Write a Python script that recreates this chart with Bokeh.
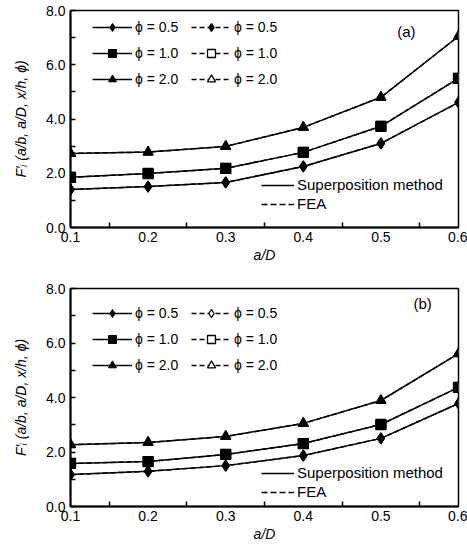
from bokeh.plotting import figure
from bokeh.models import Legend, LegendItem, Range1d, Label, FixedTicker
from bokeh.layouts import column
from bokeh.embed import file_html
from bokeh.resources import INLINE

aD = [0.1, 0.2, 0.3, 0.4, 0.5, 0.6]
phi_labels = ["ϕ = 0.5", "ϕ = 1.0", "ϕ = 2.0"]
x_ticks = [0.1, 0.2, 0.3, 0.4, 0.5, 0.6]
y_ticks = [0.0, 2.0, 4.0, 6.0, 8.0]

# panel (a)
a_sp_05 = [1.40, 1.51, 1.66, 2.25, 3.10, 4.61]
a_sp_10 = [1.85, 1.99, 2.18, 2.77, 3.73, 5.50]
a_sp_20 = [2.73, 2.78, 2.99, 3.69, 4.80, 7.05]
a_fea_05 = [1.40, 1.51, 1.66, 2.25, 3.10, 4.61]
a_fea_10 = [1.85, 1.99, 2.18, 2.77, 3.73, 5.50]
a_fea_20 = [2.73, 2.78, 2.99, 3.69, 4.80, 7.05]

# panel (b)
b_sp_05 = [1.17, 1.29, 1.50, 1.87, 2.50, 3.78]
b_sp_10 = [1.58, 1.65, 1.91, 2.31, 3.01, 4.37]
b_sp_20 = [2.27, 2.35, 2.57, 3.05, 3.89, 5.61]
b_fea_05 = [1.17, 1.29, 1.50, 1.87, 2.50, 3.78]
b_fea_10 = [1.58, 1.65, 1.91, 2.31, 3.01, 4.37]
b_fea_20 = [2.27, 2.35, 2.57, 3.05, 3.89, 5.61]

FONT = "Liberation Sans"


def make_panel(tag, sp, fea, fea_fill, left_border, right_border,
               top_border, bottom_border, frame_h, leg_y, sup_y, tag_xy):
    p = figure(frame_width=388, frame_height=frame_h,
               min_border_left=left_border, min_border_right=right_border,
               min_border_top=top_border, min_border_bottom=bottom_border,
               x_range=Range1d(0.1, 0.6), y_range=Range1d(0, 8),
               output_backend="svg", toolbar_location=None)
    p.grid.visible = False
    p.outline_line_color = "black"
    p.outline_line_width = 1.5
    p.background_fill_color = "white"

    p.xaxis.ticker = FixedTicker(ticks=x_ticks,
                                 minor_ticks=[0.15, 0.25, 0.35, 0.45, 0.55])
    p.yaxis.ticker = FixedTicker(ticks=y_ticks,
                                 minor_ticks=[1.0, 3.0, 5.0, 7.0])
    p.xaxis.major_label_overrides = {t: f"{t:.1f}" for t in x_ticks}
    p.yaxis.major_label_overrides = {t: f"{t:.1f}" for t in y_ticks}
    for ax in (p.xaxis[0], p.yaxis[0]):
        ax.axis_line_width = 2
        ax.axis_line_color = "black"
        ax.major_tick_out = 0
        ax.minor_tick_out = 0
        ax.major_tick_line_width = 1.5
        ax.minor_tick_line_width = 1.5
        ax.major_label_text_font = FONT
        ax.major_label_text_font_size = "14px"
        ax.major_label_text_color = "black"
        ax.axis_label_text_font = FONT
        ax.axis_label_text_font_size = "14px"
        ax.axis_label_text_font_style = "italic"
        ax.axis_label_text_color = "black"
    p.xaxis.major_tick_in = 0
    p.xaxis.minor_tick_in = 5
    p.yaxis.major_tick_in = 5
    p.yaxis.minor_tick_in = 5
    p.xaxis.axis_label = "a/D"
    p.yaxis.axis_label = "F′ᵢ (a/b, a/D, x/h, ϕ)"
    p.xaxis.major_label_standoff = 4
    p.xaxis.axis_label_standoff = 2
    p.yaxis.major_label_standoff = 5
    p.yaxis.axis_label_standoff = 14

    markers = ["diamond", "square", "triangle"]
    sizes = [11, 10, 10]
    col1, col2 = [], []
    for i in range(3):
        fl = p.line(aD, fea[i], line_color="black", line_width=1.5,
                    line_dash="5 3")
        fs = p.scatter(aD, fea[i], marker=markers[i], size=sizes[i],
                       line_color="black", line_width=1.3,
                       fill_color=fea_fill[i])
        sl = p.line(aD, sp[i], line_color="black", line_width=1.5)
        ss = p.scatter(aD, sp[i], marker=markers[i], size=sizes[i],
                       line_color="black", fill_color="black")
        col1.append(LegendItem(label=phi_labels[i], renderers=[sl, ss]))
        col2.append(LegendItem(label=phi_labels[i], renderers=[fl, fs]))

    def style(leg, fs, gw, gh, sp_):
        leg.background_fill_alpha = 0
        leg.border_line_alpha = 0
        leg.label_text_font = FONT
        leg.label_text_font_size = fs
        leg.label_text_color = "black"
        leg.glyph_width = gw
        leg.glyph_height = gh
        leg.label_height = gh
        leg.spacing = sp_
        leg.padding = 0
        leg.margin = 0
        leg.label_standoff = 3

    l1 = Legend(items=col1, location=(22, leg_y))
    l2 = Legend(items=col2, location=(121, leg_y))
    style(l1, "14px", 40, 20, 6)
    style(l2, "14px", 40, 20, 6)
    p.add_layout(l1)
    p.add_layout(l2)

    # legend-only lines, placed below the visible y range
    dsol = p.line([0.1, 0.2], [-10, -10], line_color="black", line_width=1.3)
    dfea = p.line([0.1, 0.2], [-10, -10], line_color="black", line_width=1.3,
                  line_dash="6 3")
    l3 = Legend(items=[LegendItem(label="Superposition method", renderers=[dsol]),
                       LegendItem(label="FEA", renderers=[dfea])],
                location=(191, sup_y))
    style(l3, "15px", 33, 16, 2)
    p.add_layout(l3)

    p.add_layout(Label(x=tag_xy[0], y=tag_xy[1], text=tag,
                       text_font=FONT, text_font_size="15px",
                       text_baseline="middle", text_align="left",
                       text_color="black"))
    return p


pa = make_panel("(a)", [a_sp_05, a_sp_10, a_sp_20],
                [a_fea_05, a_fea_10, a_fea_20],
                ["black", "white", "white"],
                68, 11, 10, 42, 217, 138, 15, (0.521, 7.22))
pb = make_panel("(b)", [b_sp_05, b_sp_10, b_sp_20],
                [b_fea_05, b_fea_10, b_fea_20],
                ["white", "white", "white"],
                70, 9, 19, 44, 218, 131, 6, (0.542, 7.45))

layout = column(pa, pb, spacing=0)
open("out.html", "w").write(file_html(layout, INLINE))
